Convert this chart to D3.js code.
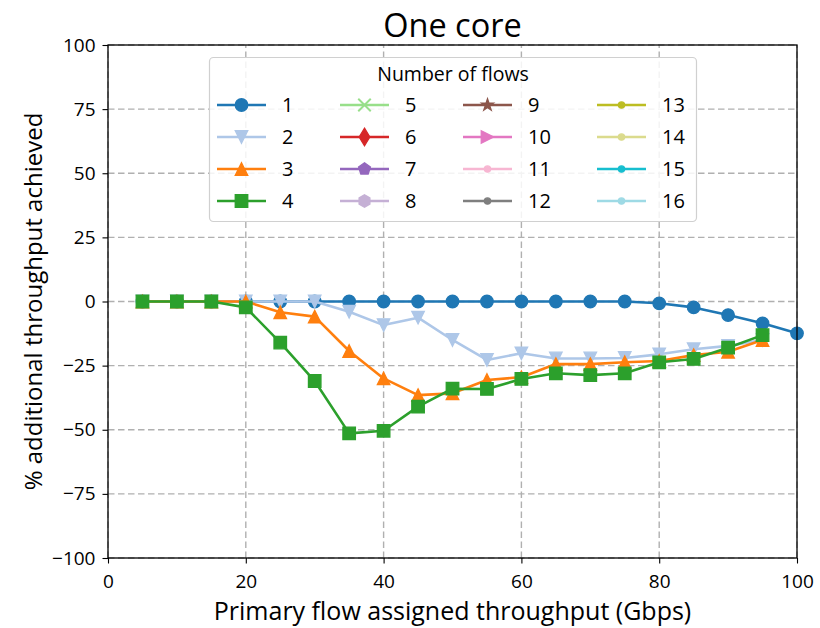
<!DOCTYPE html>
<html>
<head>
<meta charset="utf-8">
<script src="https://cdn.jsdelivr.net/npm/d3@7"></script>
<style>
  body { margin: 0; background: #fff; }
  text { font-family: "Open Sans", Lato, sans-serif; fill: #000; }
</style>
</head>
<body>
<svg id="chart" width="820" height="628"></svg>
<script>
// Primary flow assigned throughput (Gbps)
const throughput = [5, 10, 15, 20, 25, 30, 35, 40, 45, 50, 55, 60, 65, 70, 75, 80, 85, 90, 95, 100];

// % additional throughput achieved, per number of flows
const flows1 = [0, 0, 0, 0, 0, 0, 0, 0, 0, 0, 0, 0, 0, 0, 0, -0.7, -2.3, -5.3, -8.5, -12.4];
const flows2 = [0, 0, 0, 0, 0, 0, -4, -9.2, -6.3, -15, -22.8, -20.2, -22.2, -22.2, -22, -20.6, -18.6, -17.3, -15];
const flows3 = [0, 0, 0, 0, -4.2, -5.9, -19.3, -30, -36.5, -35.8, -30.6, -29.5, -24.4, -24.4, -23.7, -23.2, -20.9, -19.6, -15];
const flows4 = [0, 0, 0, -2.3, -16, -31, -51.4, -50.4, -41, -34, -34.1, -30.2, -28, -28.7, -28, -23.7, -22.4, -18, -13.1];

const seriesNames = ["1", "2", "3", "4", "5", "6", "7", "8", "9", "10", "11", "12", "13", "14", "15", "16"];
const seriesValues = [flows1, flows2, flows3, flows4, [], [], [], [], [], [], [], [], [], [], [], []];
const seriesColors = ["#1f77b4", "#aec7e8", "#ff7f0e", "#2ca02c", "#98df8a", "#d62728", "#9467bd", "#c5b0d5",
                      "#8c564b", "#e377c2", "#f7b6d2", "#7f7f7f", "#bcbd22", "#dbdb8d", "#17becf", "#9edae5"];
const seriesMarkers = ["circle", "triDown", "triUp", "square", "x", "thinDiamond", "pentagon", "hexagon",
                       "star", "triRight", "point", "point", "point", "point", "point", "point"];

const xTicks = [0, 20, 40, 60, 80, 100];
const yTicks = [-100, -75, -50, -25, 0, 25, 50, 75, 100];

const svg = d3.select("#chart");
const margin = { left: 108, top: 45, right: 23, bottom: 70 };
const W = 820, H = 628;
const x = d3.scaleLinear().domain([0, 100]).range([margin.left, W - margin.right]);
const y = d3.scaleLinear().domain([-100, 100]).range([H - margin.bottom, margin.top]);

const MS = 12.5; // marker size in px

function polygon(n, r, rot) {
  const pts = [];
  for (let i = 0; i < n; i++) {
    const a = rot + i * 2 * Math.PI / n;
    pts.push([r * Math.sin(a), -r * Math.cos(a)]);
  }
  return "M" + pts.map(p => p[0].toFixed(2) + "," + p[1].toFixed(2)).join("L") + "Z";
}
function star(r) {
  const pts = [];
  for (let i = 0; i < 10; i++) {
    const rr = i % 2 === 0 ? r : r * 0.381966;
    const a = i * Math.PI / 5;
    pts.push([rr * Math.sin(a), -rr * Math.cos(a)]);
  }
  return "M" + pts.map(p => p[0].toFixed(2) + "," + p[1].toFixed(2)).join("L") + "Z";
}
function markerPath(type, m) {
  const h = m / 2;
  switch (type) {
    case "circle": return `M${-h},0A${h},${h} 0 1,0 ${h},0A${h},${h} 0 1,0 ${-h},0Z`;
    case "point": { const r = m / 4; return `M${-r},0A${r},${r} 0 1,0 ${r},0A${r},${r} 0 1,0 ${-r},0Z`; }
    case "square": return `M${-h},${-h}H${h}V${h}H${-h}Z`;
    case "triUp": return `M0,${-h}L${h},${h}L${-h},${h}Z`;
    case "triDown": return `M0,${h}L${h},${-h}L${-h},${-h}Z`;
    case "triRight": return `M${h},0L${-h},${h}L${-h},${-h}Z`;
    case "thinDiamond": { const v = 0.707 * m, w = 0.6 * 0.707 * m; return `M0,${-v}L${w},0L0,${v}L${-w},0Z`; }
    case "pentagon": return polygon(5, h, 0);
    case "hexagon": return polygon(6, h, 0);
    case "star": return star(h);
    case "x": return `M${-h},${-h}L${h},${h}M${-h},${h}L${h},${-h}`;
  }
}
function drawMarker(g, type, color, cx, cy) {
  return g.append("path")
    .attr("d", markerPath(type, MS))
    .attr("transform", `translate(${cx},${cy})`)
    .attr("stroke", color)
    .attr("stroke-width", type === "x" ? 2 : 1.3)
    .attr("stroke-linejoin", "miter")
    .attr("fill", type === "x" ? "none" : color);
}

// Grid
const grid = svg.append("g");
grid.selectAll("line.gx").data(xTicks).join("line")
  .attr("x1", d => x(d)).attr("x2", d => x(d))
  .attr("y1", y(-100)).attr("y2", y(100))
  .attr("stroke", "#b0b0b0").attr("stroke-width", 1.4).attr("stroke-dasharray", "6.5,3.5");
grid.selectAll("line.gy").data(yTicks).join("line")
  .attr("x1", x(0)).attr("x2", x(100))
  .attr("y1", d => y(d)).attr("y2", d => y(d))
  .attr("stroke", "#b0b0b0").attr("stroke-width", 1.4).attr("stroke-dasharray", "6.5,3.5");

// Series
const plot = svg.append("g");
const line = d3.line().x(d => x(d[0])).y(d => y(d[1]));
seriesValues.forEach((vals, i) => {
  if (!vals.length) return;
  const pts = vals.map((v, j) => [throughput[j], v]);
  const g = plot.append("g");
  g.append("path").attr("d", line(pts))
    .attr("fill", "none").attr("stroke", seriesColors[i])
    .attr("stroke-width", 2.6).attr("stroke-linejoin", "round");
  pts.forEach(p => drawMarker(g, seriesMarkers[i], seriesColors[i], x(p[0]), y(p[1])));
});

// Axes
const xAxis = svg.append("g").attr("transform", `translate(0,${y(-100)})`)
  .call(d3.axisBottom(x).tickValues(xTicks).tickSize(5.5).tickPadding(11).tickFormat(d3.format("d")));
const yAxis = svg.append("g").attr("transform", `translate(${x(0)},0)`)
  .call(d3.axisLeft(y).tickValues(yTicks).tickSize(5.5).tickPadding(7).tickFormat(d3.format("d")));
[xAxis, yAxis].forEach(a => {
  a.select(".domain").remove();
  a.selectAll("text").attr("font-size", 19).style("font-family", "'Open Sans', sans-serif");
  a.selectAll(".tick line").attr("stroke", "#000").attr("stroke-width", 1.1);
});
// Frame
svg.append("rect").attr("x", x(0)).attr("y", y(100))
  .attr("width", x(100) - x(0)).attr("height", y(-100) - y(100))
  .attr("fill", "none").attr("stroke", "#000").attr("stroke-width", 1.3);

// Titles
svg.append("text").attr("x", (x(0) + x(100)) / 2).attr("y", 37)
  .attr("text-anchor", "middle").attr("font-size", 32.5).text("One core");
svg.append("text").attr("x", (x(0) + x(100)) / 2).attr("y", 620)
  .attr("text-anchor", "middle").attr("font-size", 25).text("Primary flow assigned throughput (Gbps)");
svg.append("text").attr("transform", `translate(42,${(y(-100) + y(100)) / 2}) rotate(-90)`)
  .attr("text-anchor", "middle").attr("font-size", 24).text("% additional throughput achieved");

// Legend
const legend = svg.append("g");
legend.append("rect").attr("x", 209.5).attr("y", 57.5).attr("width", 487).attr("height", 164)
  .attr("rx", 4).attr("fill", "#fff").attr("fill-opacity", 0.85)
  .attr("stroke", "#d0d0d0").attr("stroke-width", 1.2);
legend.append("text").attr("x", 453).attr("y", 81).attr("text-anchor", "middle")
  .attr("font-size", 19.5).text("Number of flows");
const colX = [217, 340, 463, 597];
const rowY = [105, 137, 169, 201];
seriesNames.forEach((name, i) => {
  const cx = colX[Math.floor(i / 4)], cy = rowY[i % 4];
  const g = legend.append("g");
  g.append("line").attr("x1", cx).attr("x2", cx + 49).attr("y1", cy).attr("y2", cy)
    .attr("stroke", seriesColors[i]).attr("stroke-width", 2.6);
  drawMarker(g, seriesMarkers[i], seriesColors[i], cx + 24.5, cy);
  g.append("text").attr("x", cx + 65).attr("y", cy).attr("dy", "0.36em")
    .attr("font-size", 20).text(name);
});
</script>
</body>
</html>
